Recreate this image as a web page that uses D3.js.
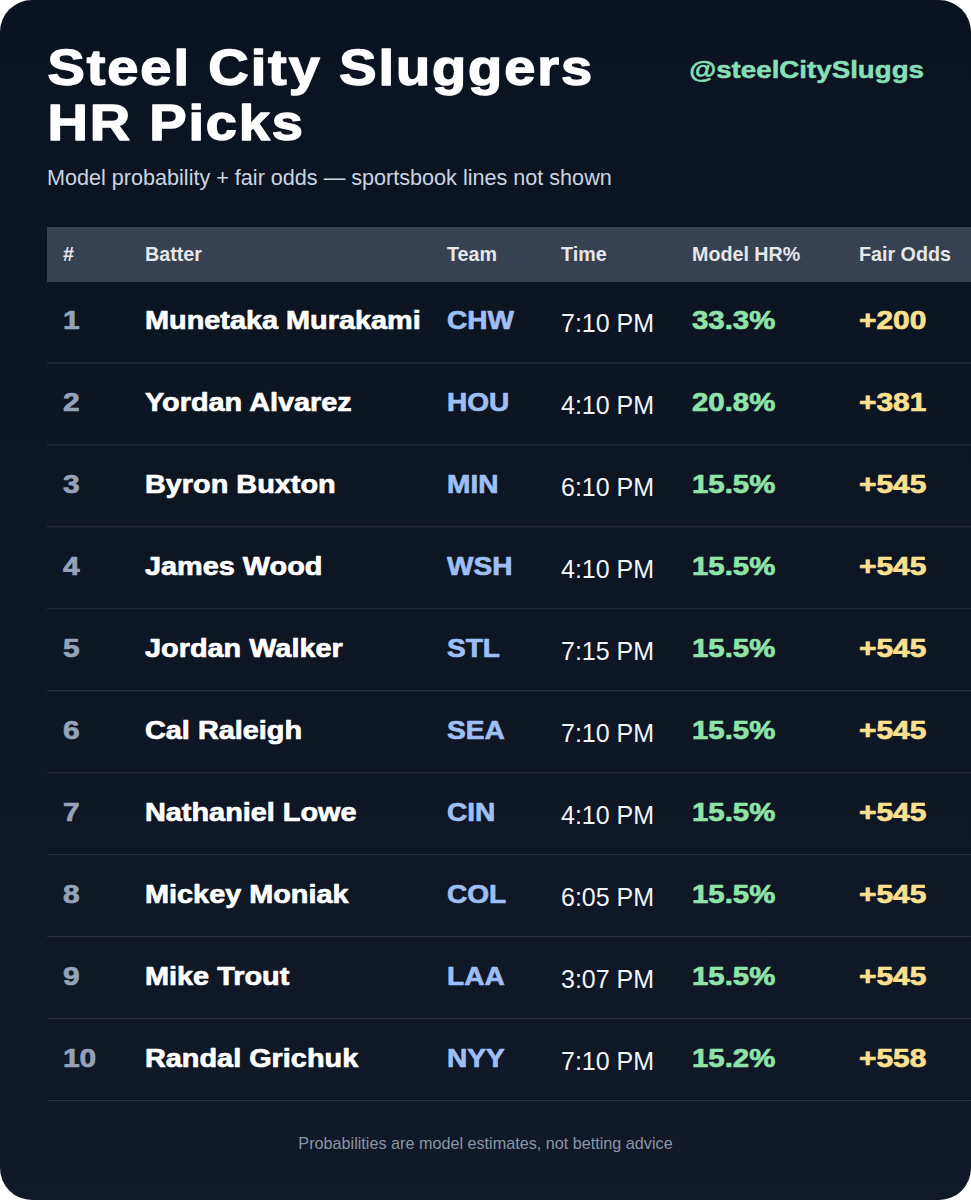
<!DOCTYPE html>
<head>
    <meta charset="utf-8">
    <script src="https://d3js.org/d3.v7.min.js"></script>
    <style>
        html, body { margin: 0; background: #fff; }
        svg { display: block; }
        text { font-family: "Liberation Sans", Arial, sans-serif; }
    </style>
</head>

<body>
    <svg width="971" height="1200"></svg>

    <script>
        const headers = ["#", "Batter", "Team", "Time", "Model HR%", "Fair Odds"]
        const columns = ["rank", "batter", "team", "time", "prob", "odds"]
        const ranks = [1, 2, 3, 4, 5, 6, 7, 8, 9, 10]
        const batters = ["Munetaka Murakami", "Yordan Alvarez", "Byron Buxton", "James Wood", "Jordan Walker",
            "Cal Raleigh", "Nathaniel Lowe", "Mickey Moniak", "Mike Trout", "Randal Grichuk"]
        const teams = ["CHW", "HOU", "MIN", "WSH", "STL", "SEA", "CIN", "COL", "LAA", "NYY"]
        const times = ["7:10 PM", "4:10 PM", "6:10 PM", "4:10 PM", "7:15 PM", "7:10 PM", "4:10 PM", "6:05 PM", "3:07 PM", "7:10 PM"]
        const probs = [33.3, 20.8, 15.5, 15.5, 15.5, 15.5, 15.5, 15.5, 15.5, 15.2]
        const odds = [200, 381, 545, 545, 545, 545, 545, 545, 545, 558]

        const svg = d3.select("svg")
        const W = 971, H = 1200

        // left edge of each column
        const x = d3.scaleOrdinal().domain(columns).range([63, 145, 447, 561, 692, 859])
        // rows, about 82px each, first one starts under the header
        const y = d3.scaleBand().domain(ranks).range([281, 1100.5])

        const grad = svg.append("defs").append("linearGradient")
            .attr("id", "bg").attr("x1", 0).attr("y1", 0).attr("x2", 0).attr("y2", 1)
        grad.append("stop").attr("offset", "0%").attr("stop-color", "#0b1320")
        grad.append("stop").attr("offset", "100%").attr("stop-color", "#111827")

        svg.append("rect")
            .attr("width", W).attr("height", H)
            .attr("rx", 32).attr("ry", 32)
            .attr("fill", "url(#bg)")

        // the heavy text in the picture is wider than plain bold: stretch and stroke it
        function heavy(sel, color, stroke) {
            return sel.attr("font-weight", 700)
                .attr("fill", color)
                .attr("stroke", color)
                .attr("stroke-width", stroke)
                .attr("stroke-linejoin", "round")
        }

        function label(txt, px, py, size, color) {
            return svg.append("text")
                .attr("transform", `translate(${px},${py})`)
                .attr("font-size", size)
                .attr("fill", color)
                .text(txt)
        }

        heavy(label("Steel City Sluggers", 47.5, 85, 50, "#ffffff"), "#ffffff", 1.4)
            .attr("transform", "translate(47.5,85) scale(1.12,1)").attr("letter-spacing", 1.7)
        heavy(label("HR Picks", 47.5, 140, 50, "#ffffff"), "#ffffff", 1.4)
            .attr("transform", "translate(47.5,140) scale(1.12,1)").attr("letter-spacing", 1.6)
        heavy(label("@steelCitySluggs", 924, 78, 24, "#86dfb6"), "#86dfb6", 0.5)
            .attr("transform", "translate(924,78) scale(1.155,1)")
            .attr("text-anchor", "end")
        label("Model probability + fair odds \u2014 sportsbook lines not shown", 47, 185, 21.6, "#cbd5e1")

        // table head
        svg.append("rect")
            .attr("x", 47).attr("y", 227)
            .attr("width", W - 47).attr("height", 55)
            .attr("fill", "#374151")

        svg.selectAll("text.head")
            .data(headers)
            .enter()
            .append("text")
            .attr("class", "head")
            .attr("x", (d, i) => x(columns[i]))
            .attr("y", 261)
            .attr("font-size", 19.7)
            .attr("font-weight", 700)
            .attr("fill", "#e5e7eb")
            .text(d => d)

        // table rows
        const rows = svg.selectAll("g.row")
            .data(ranks)
            .enter()
            .append("g")
            .attr("class", "row")
            .attr("transform", d => `translate(0,${y(d)})`)

        rows.append("line")
            .attr("x1", 47).attr("x2", W)
            .attr("y1", y.bandwidth()).attr("y2", y.bandwidth())
            .attr("stroke", "#2c3340")
            .attr("stroke-width", 1)

        function cell(col, fn, dy, color, sx) {
            const t = rows.append("text")
                .attr("transform", `translate(${x(col)},${dy}) scale(${sx},1)`)
                .attr("font-size", 26)
                .text((d, i) => fn(i))
            heavy(t, color, 0.7)
        }

        cell("rank", i => ranks[i], 48, "#94a3b8", 1.15)
        cell("batter", i => batters[i], 48, "#ffffff", 1.11)
        cell("team", i => teams[i], 48, "#9dbff5", 1.08)
        cell("prob", i => d3.format(".1f")(probs[i]) + "%", 48, "#8fe3a9", 1.13)
        cell("odds", i => "+" + odds[i], 48, "#fbe08f", 1.15)

        rows.append("text")
            .attr("x", x("time"))
            .attr("y", 51)
            .attr("font-size", 25)
            .attr("fill", "#f1f5f9")
            .text((d, i) => times[i])

        label("Probabilities are model estimates, not betting advice", W / 2, 1149, 16.2, "#8b95a7")
            .attr("text-anchor", "middle")
    </script>
</body>
